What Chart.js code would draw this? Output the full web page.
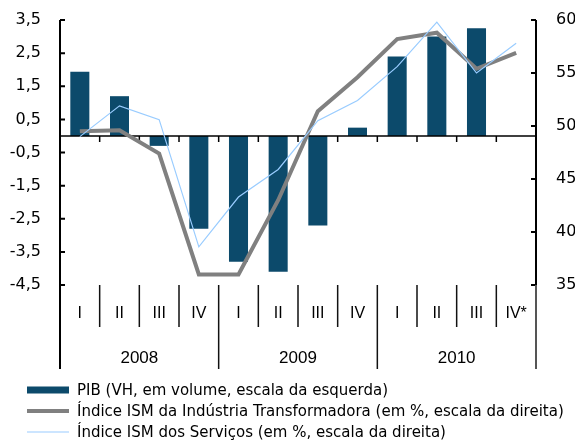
<!DOCTYPE html>
<html>
<head>
<meta charset="utf-8">
<script src="https://cdn.jsdelivr.net/npm/chart.js@4.4.0/dist/chart.umd.min.js"></script>
<style>
  html, body { margin: 0; padding: 0; background: #fff; }
  #wrap { width: 575px; height: 442px; }
</style>
</head>
<body>
<div id="wrap"><canvas id="chart" width="575" height="442"></canvas></div>
<script>
// quarters 2008 - 2010
const quarters = ["I", "II", "III", "IV", "I", "II", "III", "IV", "I", "II", "III", "IV*"];
const years = ["2008", "2009", "2010"];

// PIB, VH (left scale)
const pib = [1.94, 1.2, -0.3, -2.8, -3.8, -4.1, -2.7, 0.25, 2.4, 3.0, 3.25, null];
// ISM indices (right scale)
const ismIndustria = [49.5, 49.6, 47.4, 36.0, 36.0, 43.0, 51.4, 54.6, 58.2, 58.8, 55.4, 56.9];
const ismServicos = [49.0, 51.9, 50.6, 38.6, 43.3, 45.9, 50.5, 52.4, 55.6, 59.8, 55.0, 57.8];

const leftTicks = [3.5, 2.5, 1.5, 0.5, -0.5, -1.5, -2.5, -3.5, -4.5];
const rightTicks = [60, 55, 50, 45, 40, 35];

const legendLabels = [
  "PIB (VH, em volume, escala da esquerda)",
  "Índice ISM da Indústria Transformadora (em %, escala da direita)",
  "Índice ISM dos Serviços (em %, escala da direita)"
];

Chart.defaults.font.family = "'Liberation Sans', Arial, sans-serif";
Chart.defaults.color = "#000";

// zero line, inner ticks, two-level category axis and the legend
const frame = {
  id: "frame",
  afterDatasetDraw(chart, args) {
    if (args.index !== 0) return;
    const {ctx, chartArea: a, scales: {x, y}} = chart;
    const y0 = y.getPixelForValue(0);
    const step = x.getPixelForValue(1) - x.getPixelForValue(0);
    ctx.save();
    ctx.strokeStyle = "#000";
    ctx.lineWidth = 1.5;
    ctx.beginPath();
    ctx.moveTo(a.left, y0);
    ctx.lineTo(a.right, y0);
    for (let i = 1; i < quarters.length; i++) {
      const bx = x.getPixelForValue(i) - step / 2;
      ctx.moveTo(bx, y0);
      ctx.lineTo(bx, y0 + 6);
    }
    ctx.stroke();
    ctx.restore();
  },
  afterDraw(chart) {
    const {ctx, chartArea: a, scales: {x, y, y1}} = chart;
    const step = x.getPixelForValue(1) - x.getPixelForValue(0);
    ctx.save();
    ctx.strokeStyle = "#000";
    ctx.lineWidth = 2;
    ctx.beginPath();
    ctx.moveTo(a.left, a.top);
    ctx.lineTo(a.left, 369);
    ctx.moveTo(a.right, a.top);
    ctx.lineTo(a.right, a.bottom);
    y.ticks.forEach(t => {
      const py = y.getPixelForValue(t.value);
      ctx.moveTo(a.left, py);
      ctx.lineTo(a.left + 5, py);
    });
    y1.ticks.forEach(t => {
      const py = y1.getPixelForValue(t.value);
      ctx.moveTo(a.right - 5, py);
      ctx.lineTo(a.right, py);
    });
    ctx.stroke();

    ctx.strokeStyle = "#555";
    ctx.beginPath();
    ctx.moveTo(a.right, a.bottom);
    ctx.lineTo(a.right, 369);
    ctx.stroke();

    ctx.strokeStyle = "#111";
    ctx.lineWidth = 1.5;
    ctx.beginPath();
    for (let i = 1; i < quarters.length; i++) {
      const bx = x.getPixelForValue(i) - step / 2;
      ctx.moveTo(bx, a.bottom);
      ctx.lineTo(bx, i % 4 === 0 ? 369 : 327);
    }
    ctx.stroke();

    ctx.fillStyle = "#000";
    ctx.font = "17px 'Liberation Sans', Arial, sans-serif";
    ctx.textAlign = "center";
    ctx.textBaseline = "middle";
    years.forEach((yr, g) => {
      const cx = x.getPixelForValue(g * 4 + 1) + step / 2;
      ctx.fillText(yr, cx, 358);
    });

    // legend
    ctx.textAlign = "left";
    ctx.font = "15px 'DejaVu Sans', sans-serif";
    chart.data.datasets.forEach((ds, i) => {
      const yc = 390 + i * 21;
      if (ds.type === "bar") {
        ctx.fillStyle = ds.backgroundColor;
        ctx.fillRect(27, yc - 3.5, 42, 7);
      } else {
        ctx.strokeStyle = ds.borderColor;
        ctx.lineWidth = ds.borderWidth;
        ctx.beginPath();
        ctx.moveTo(27, yc);
        ctx.lineTo(69, yc);
        ctx.stroke();
      }
      ctx.fillStyle = "#000";
      ctx.fillText(ds.label, 77, yc + 1);
    });
    ctx.restore();
  }
};

function fmt(v) {
  return v.toFixed(1).replace(".", ",");
}

new Chart(document.getElementById("chart"), {
  data: {
    labels: quarters,
    datasets: [
      {
        type: "bar",
        label: legendLabels[0],
        data: pib,
        yAxisID: "y",
        backgroundColor: "#0c4a6b",
        borderWidth: 0,
        barPercentage: 0.48,
        categoryPercentage: 1,
        order: 3
      },
      {
        type: "line",
        label: legendLabels[1],
        data: ismIndustria,
        yAxisID: "y1",
        borderColor: "#808080",
        borderWidth: 4,
        pointRadius: 0,
        tension: 0,
        order: 2
      },
      {
        type: "line",
        label: legendLabels[2],
        data: ismServicos,
        yAxisID: "y1",
        borderColor: "#99ccff",
        borderWidth: 1.2,
        pointRadius: 0,
        tension: 0,
        order: 1
      }
    ]
  },
  options: {
    responsive: false,
    animation: false,
    layout: { padding: { top: 20, left: 0, right: 0, bottom: 67 } },
    plugins: {
      tooltip: { enabled: false },
      legend: { display: false }
    },
    scales: {
      x: {
        offset: true,
        grid: { display: false, drawTicks: false },
        border: { display: false },
        ticks: { padding: 19, font: { size: 16 }, color: "#000", maxRotation: 0, autoSkip: false },
        afterFit: s => { s.height = 90; }
      },
      y: {
        position: "left",
        min: -4.5,
        max: 3.5,
        grid: { display: false, drawTicks: false },
        border: { display: false },
        afterBuildTicks: s => { s.ticks = leftTicks.map(v => ({ value: v })); },
        ticks: {
          padding: 19,
          color: "#000",
          font: { size: 16, family: "'DejaVu Sans', sans-serif" },
          callback: v => fmt(v)
        },
        afterFit: s => { s.width = 60; s.paddingTop = 0; s.paddingBottom = 0; }
      },
      y1: {
        position: "right",
        min: 35,
        max: 60,
        grid: { display: false, drawTicks: false },
        border: { display: false },
        afterBuildTicks: s => { s.ticks = rightTicks.map(v => ({ value: v })); },
        ticks: {
          padding: 20,
          color: "#000",
          font: { size: 16, family: "'DejaVu Sans', sans-serif" }
        },
        afterFit: s => { s.width = 39; s.paddingTop = 0; s.paddingBottom = 0; }
      }
    }
  },
  plugins: [frame]
});
</script>
</body>
</html>
